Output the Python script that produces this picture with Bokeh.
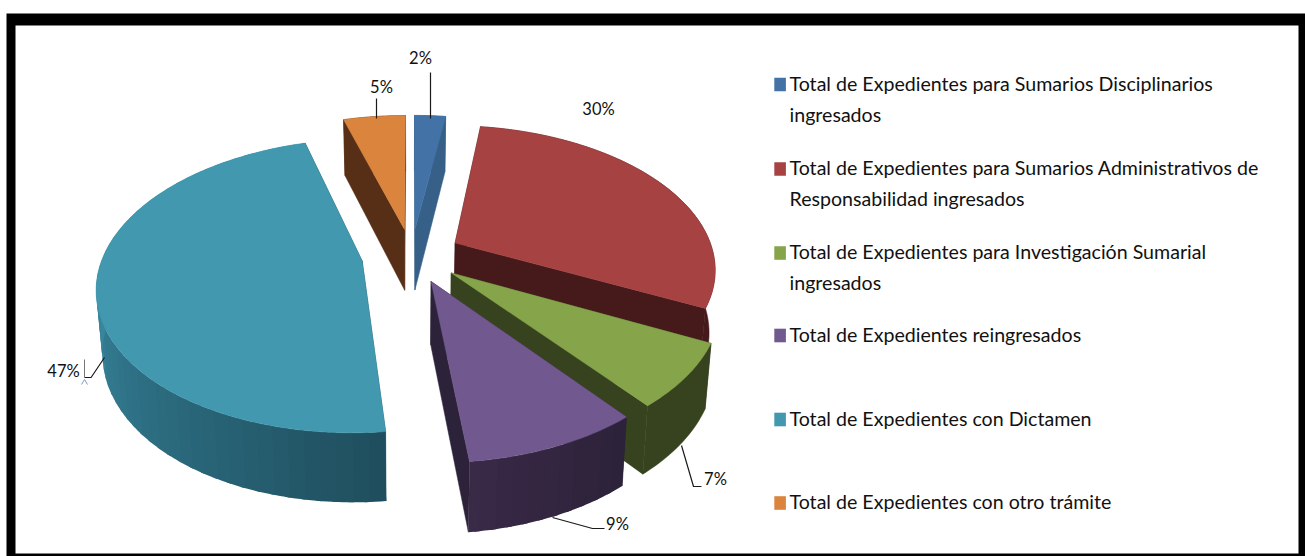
import math
from bokeh.plotting import figure
from bokeh.models import Range1d
from bokeh.core.properties import value
from bokeh.embed import file_html
from bokeh.resources import INLINE

# ---- data ----
categories = [
    "Total de Expedientes para Sumarios Disciplinarios ingresados",
    "Total de Expedientes para Sumarios Administrativos de Responsabilidad ingresados",
    "Total de Expedientes para Investigación Sumarial ingresados",
    "Total de Expedientes reingresados",
    "Total de Expedientes con Dictamen",
    "Total de Expedientes con otro trámite",
]
legend_lines = [
    ["Total de Expedientes para Sumarios Disciplinarios", "ingresados"],
    ["Total de Expedientes para Sumarios Administrativos de", "Responsabilidad ingresados"],
    ["Total de Expedientes para Investigación Sumarial", "ingresados"],
    ["Total de Expedientes reingresados"],
    ["Total de Expedientes con Dictamen"],
    ["Total de Expedientes con otro trámite"],
]
shares = [2.3, 30.0, 7.0, 9.0, 47.1, 4.6]

top_colors = ["#4272A6", "#A64342", "#86A44A", "#71588F", "#4198AF", "#DB843D"]
side_colors = ["#376088", "#46191A", "#37431F", "#2C2239", "#1F4F5F", "#572F16"]
rim_light = [None, None, None, "#3A2A48", "#3A8AA2", None]   # lighter end of rim shading

# ---- projection of the 3-D pie ----
W, H = 1305, 556
CX, CY = 411.0, 255.0
A, B, PERSP = 259.0, 141.0, 0.168
EXPLODE = 0.193
DEPTH = 62.0


def top_pt(u, v):
    s = 1.0 / (1.0 - PERSP * v)
    return CX + A * u * s, CY + B * v * s, s


def bottom_pt(u, v):
    x, y, s = top_pt(u, v)
    return CX + (x - CX) * 0.98, y + DEPTH * s ** 0.6


def mix(c1, c2, t):
    a = [int(c1[i:i + 2], 16) for i in (1, 3, 5)]
    b = [int(c2[i:i + 2], 16) for i in (1, 3, 5)]
    return "#%02x%02x%02x" % tuple(round(a[k] + (b[k] - a[k]) * t) for k in range(3))


slices = []
acc = 0.0
for i, sh in enumerate(shares):
    t0 = acc * 3.6
    t1 = (acc + sh) * 3.6
    acc += sh
    mid = math.radians((t0 + t1) / 2)
    slices.append((i, t0, t1, EXPLODE * math.sin(mid), -EXPLODE * math.cos(mid)))

p = figure(width=W, height=H, x_range=Range1d(0, W), y_range=Range1d(H, 0),
           output_backend="svg", toolbar_location=None, min_border=0,
           background_fill_color="white", border_fill_color="white")
p.styles = {"position": "absolute", "left": "0px", "top": "0px"}
p.outline_line_color = None
p.axis.visible = False
p.grid.visible = False

# frame
p.quad(left=[6], right=[1305], top=[13], bottom=[556], fill_color="black", line_color=None)
p.quad(left=[15], right=[1298], top=[25], bottom=[553], fill_color="white", line_color=None)

# back to front
for idx in [5, 0, 1, 4, 2, 3]:
    i, t0, t1, eu, ev = slices[idx]
    n = max(4, int((t1 - t0) / 1.0))
    angs = [math.radians(t0 + (t1 - t0) * k / n) for k in range(n + 1)]
    uv = [(eu + math.sin(a), ev - math.cos(a)) for a in angs]
    ax_t = top_pt(eu, ev)
    ax_b = bottom_pt(eu, ev)

    # radial faces
    for (u, v) in (uv[0], uv[-1]):
        r_t = top_pt(u, v)
        r_b = bottom_pt(u, v)
        p.patch([ax_t[0], r_t[0], r_b[0], ax_b[0]], [ax_t[1], r_t[1], r_b[1], ax_b[1]],
                fill_color=side_colors[i], line_color=side_colors[i], line_width=0.5)
    # rim
    if rim_light[i]:
        xs, ys, cols = [], [], []
        step = 3
        for k in range(0, n, step):
            e = min(n, k + step + 1)
            seg = uv[k:e + 1]
            xs.append([top_pt(*q)[0] for q in seg] + [bottom_pt(*q)[0] for q in reversed(seg)])
            ys.append([top_pt(*q)[1] for q in seg] + [bottom_pt(*q)[1] for q in reversed(seg)])
            deg = math.degrees(angs[k])
            if i == 4:
                f = min(1.0, max(0.0, (deg - 174.0) / 96.0))
            else:
                f = min(1.0, max(0.0, (deg - t0) / (t1 - t0)))
            cols.append(mix(side_colors[i], rim_light[i], f))
        p.patches(xs, ys, fill_color=cols, line_color=None)
    else:
        p.patch([top_pt(*q)[0] for q in uv] + [bottom_pt(*q)[0] for q in reversed(uv)],
                [top_pt(*q)[1] for q in uv] + [bottom_pt(*q)[1] for q in reversed(uv)],
                fill_color=side_colors[i], line_color=side_colors[i], line_width=0.5)

    tx = [ax_t[0]] + [top_pt(u, v)[0] for u, v in uv]
    ty = [ax_t[1]] + [top_pt(u, v)[1] for u, v in uv]
    p.patch(tx, ty, fill_color=top_colors[i], line_color=top_colors[i], line_width=0.5)

# data labels and leaders (layout in page pixels)
label_at = [(420, 58), (598, 109), (715, 479), (617, 524), (63, 371), (381, 87)]
leaders = [
    ([430, 430], [72, 118]),
    None,
    ([681, 693, 701], [445, 486, 486]),
    ([552, 592, 604], [517, 528, 528]),
    ([104, 90.6, 84], [357, 377, 377]),
    ([376, 376], [98, 118]),
]
for lead in leaders:
    if lead:
        p.line(lead[0], lead[1], line_color="#1a1a1a", line_width=1.2)
p.line([84, 84], [359, 377], line_color="#777777", line_width=1)
p.line([81, 84, 87], [384, 379, 384], line_color="#7f9bc0", line_width=1)

p.text([q[0] for q in label_at], [q[1] - 1 for q in label_at],
       text=[f"{s:.0f}%" for s in shares],
       text_font=value("Lato"), text_font_size="16.5px", text_color="#111111",
       text_align="center", text_baseline="middle")

# legend
swatch_y = [84, 168.5, 252.5, 335, 419, 502.5]
line_gap = 31
for i, lines in enumerate(legend_lines):
    y = swatch_y[i]
    p.quad(left=[773.8], right=[785.4], top=[y - 6.8], bottom=[y + 6.8],
           fill_color=top_colors[i], line_color=None)
    p.text([789] * len(lines), [y - 1.5 + k * line_gap for k in range(len(lines))], text=lines,
           text_font=value("Lato"), text_font_size="19.6px", text_color="#111111",
           text_align="left", text_baseline="middle")

open("out.html", "w").write(file_html(p, INLINE))
